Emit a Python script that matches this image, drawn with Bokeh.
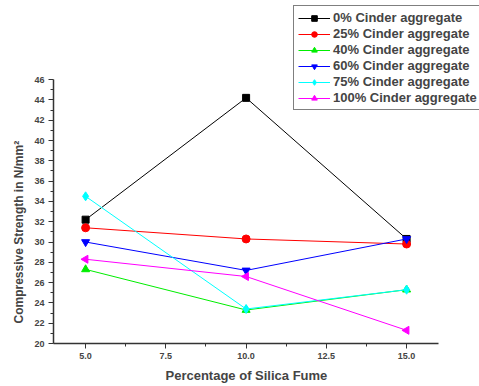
from bokeh.plotting import figure
from bokeh.models import Legend, LegendItem, Range1d, FixedTicker, NumeralTickFormatter, Title
from bokeh.embed import file_html
from bokeh.resources import INLINE

silica = [5.0, 10.0, 15.0]
labels = ["0% Cinder aggregate", "25% Cinder aggregate", "40% Cinder aggregate",
          "60% Cinder aggregate", "75% Cinder aggregate", "100% Cinder aggregate"]
s0 = [32.2, 44.2, 30.3]
s25 = [31.4, 30.3, 29.8]
s40 = [27.3, 23.3, 25.3]
s60 = [30.0, 27.2, 30.3]
s75 = [34.5, 23.4, 25.3]
s100 = [28.3, 26.6, 21.3]
xticks = [5.0, 7.5, 10.0, 12.5, 15.0]
yticks = [20, 22, 24, 26, 28, 30, 32, 34, 36, 38, 40, 42, 44, 46]
x_label = "Percentage of Silica Fume"
y_label = "Compressive Strength in N/mm\u00b2"

series = [s0, s25, s40, s60, s75, s100]
colors = ["#000000", "#ff0000", "#00ee00", "#0000ff", "#00ffff", "#ff00ff"]
markers = ["square", "circle", "triangle", "inverted_triangle", "diamond", "triangle"]
angles = [0, 0, 0, 0, 0, 1.5708]
sizes = [7, 8, 8, 8, 9, 8]

FONT = "Liberation Sans"
LEFT, BOTTOM = 53, 43
PX_X, PX_Y = 32.1, 10.15   # pixels per data unit
W, H = 479, 386

p = figure(width=W, height=H, output_backend="svg", toolbar_location=None,
           x_range=Range1d(4.0, 4.0 + (W - LEFT) / PX_X),
           y_range=Range1d(20, 20 + (H - BOTTOM) / PX_Y),
           min_border_left=LEFT, min_border_right=0, min_border_top=0,
           min_border_bottom=BOTTOM)
p.outline_line_color = None
p.xgrid.visible = False
p.ygrid.visible = False

items = []
for data, c, m, a, sz, lab in zip(series, colors, markers, angles, sizes, labels):
    r1 = p.line(silica, data, line_color=c, line_width=1)
    r2 = p.scatter(silica, data, marker=m, angle=a, size=sz, fill_color=c, line_color=c)
    items.append(LegendItem(label=lab, renderers=[r1, r2]))

legend = Legend(items=items, location=(240, 233))
legend.label_text_font = FONT
legend.label_text_font_style = "bold"
legend.label_text_font_size = "13px"
legend.label_height = 14
legend.glyph_height = 14
legend.glyph_width = 32
legend.spacing = 1
legend.padding = 4
legend.margin = 0
legend.border_line_color = "black"
legend.border_line_width = 1.5
legend.label_standoff = 3
p.add_layout(legend, "center")

for ax in (p.xaxis[0], p.yaxis[0]):
    ax.axis_line_color = "#333333"
    ax.axis_line_width = 1.5
    ax.major_tick_line_color = "#333333"
    ax.minor_tick_line_color = "#333333"
    ax.major_tick_out = 5
    ax.major_tick_in = 0
    ax.minor_tick_out = 3
    ax.minor_tick_in = 0
    ax.major_label_text_font = FONT
    ax.major_label_text_font_style = "bold"
    ax.major_label_text_font_size = "9px"
    ax.major_label_standoff = 4

p.xaxis[0].bounds = (4.0, 16.0)
p.yaxis[0].bounds = (20, 46)
p.xaxis[0].ticker = FixedTicker(ticks=xticks, minor_ticks=[6.25, 8.75, 11.25, 13.75])
p.yaxis[0].ticker = FixedTicker(ticks=yticks, minor_ticks=[y + 1 for y in yticks[:-1]])
p.xaxis[0].formatter = NumeralTickFormatter(format="0.0")

xt = Title(text=x_label, align="left", offset=112, standoff=8, text_font=FONT,
           text_font_style="bold", text_font_size="13px")
yt = Title(text=y_label, align="left", offset=20, standoff=12, text_font=FONT,
           text_font_style="bold", text_font_size="12px")
p.add_layout(xt, "below")
p.add_layout(yt, "left")

open("out.html", "w").write(file_html(p, INLINE))
